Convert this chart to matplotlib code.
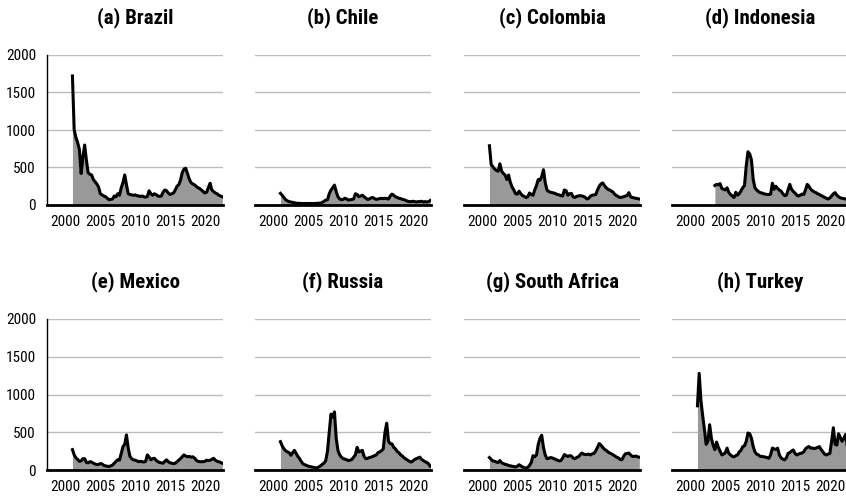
import numpy as np
import matplotlib
matplotlib.use("Agg")
import matplotlib.pyplot as plt
from matplotlib import font_manager

# narrow face if the machine has one
names = {f.name for f in font_manager.fontManager.ttflist}
narrow = [n for n in ['Liberation Sans Narrow', 'Roboto Condensed', 'DejaVu Sans']
          if n in names]
plt.rcParams['font.family'] = narrow
plt.rcParams['font.stretch'] = 'condensed'

# quarterly observations, 2001Q1 .. 2022Q3
quarters = [2001 + q / 4 for q in range(87)]
nan = np.nan

brazil = [1720, 1000, 900, 830, 740, 420, 640, 800, 600, 430, 410, 400,
          340, 310, 280, 240, 150, 135, 120, 110, 90, 70, 75, 80,
          120, 110, 150, 130, 230, 300, 400, 270, 150, 140, 135, 130,
          135, 125, 120, 115, 120, 110, 105, 115, 190, 150, 130, 150,
          140, 120, 115, 120, 170, 200, 190, 160, 140, 150, 160, 200,
          250, 270, 330, 430, 480, 490, 420, 350, 300, 280, 270, 250,
          230, 220, 200, 180, 160, 170, 230, 290, 200, 180, 160, 150,
          130, 120, 110]
chile = [155, 130, 100, 70, 55, 45, 40, 35, 30, 25, 22, 22,
         20, 20, 20, 20, 20, 20, 20, 20, 20, 22, 25, 25,
         35, 50, 65, 70, 150, 200, 230, 266, 180, 110, 80, 70,
         75, 90, 80, 65, 70, 75, 80, 150, 140, 110, 120, 130,
         110, 90, 75, 80, 95, 100, 85, 75, 80, 85, 90, 85,
         90, 85, 80, 120, 145, 130, 110, 100, 90, 85, 75, 70,
         60, 50, 45, 45, 50, 45, 40, 45, 45, 50, 40, 45,
         40, 45, 60]
colombia = [790, 540, 510, 480, 460, 450, 550, 450, 420, 400, 340, 400,
            300, 240, 200, 150, 145, 185, 150, 125, 115, 100, 110, 160,
            140, 130, 200, 260, 340, 330, 380, 470, 300, 200, 180, 170,
            165, 160, 150, 140, 135, 125, 120, 200, 190, 130, 150, 155,
            110, 100, 115, 120, 125, 120, 115, 100, 80, 90, 120, 130,
            135, 140, 200, 250, 280, 295, 260, 230, 210, 200, 185, 170,
            140, 125, 110, 100, 105, 110, 120, 125, 165, 110, 100, 95,
            90, 85, 80]
indonesia = [nan, nan, nan, nan, nan, nan, nan, nan, nan, nan, 260, 275,
             270, 285, 220, 210, 200, 230, 170, 140, 120, 100, 170, 130,
             150, 190, 230, 260, 520, 710, 680, 600, 340, 230, 200, 180,
             165, 160, 150, 145, 140, 140, 145, 290, 210, 250, 220, 200,
             185, 150, 125, 130, 200, 275, 210, 180, 160, 130, 120, 130,
             145, 140, 200, 275, 250, 210, 190, 175, 165, 150, 140, 125,
             115, 100, 90, 80, 95, 120, 150, 165, 130, 110, 95, 90,
             85, 80, 80]
mexico = [270, 200, 160, 140, 115, 120, 150, 150, 100, 95, 110, 105,
          90, 80, 70, 75, 85, 80, 60, 55, 50, 45, 55, 65,
          90, 115, 135, 130, 220, 310, 340, 465, 290, 180, 150, 135,
          130, 120, 110, 115, 110, 105, 115, 200, 170, 135, 150, 155,
          130, 110, 100, 95, 90, 115, 135, 110, 95, 90, 85, 90,
          110, 130, 150, 175, 200, 185, 175, 180, 170, 175, 160, 130,
          115, 110, 110, 110, 115, 130, 125, 130, 140, 155, 130, 115,
          110, 100, 90]
russia = [375, 320, 280, 255, 240, 230, 195, 230, 260, 220, 180, 150,
          110, 80, 70, 60, 50, 45, 40, 35, 30, 28, 40, 55,
          75, 90, 125, 250, 500, 740, 700, 770, 420, 260, 200, 170,
          150, 145, 135, 125, 130, 140, 170, 200, 300, 240, 250, 260,
          180, 150, 155, 165, 170, 180, 190, 200, 230, 240, 255, 280,
          500, 620, 380, 350, 345, 300, 280, 245, 230, 200, 185, 160,
          145, 130, 115, 105, 120, 140, 150, 160, 170, 140, 125, 110,
          100, 80, 50]
south_africa = [165, 140, 120, 115, 105, 100, 125, 95, 85, 75, 70, 60,
                55, 50, 45, 40, 50, 70, 55, 40, 30, 25, 35, 60,
                100, 190, 175, 200, 340, 420, 460, 300, 200, 150, 155, 165,
                160, 150, 140, 130, 120, 125, 160, 205, 190, 180, 190, 185,
                160, 150, 165, 175, 200, 225, 210, 205, 205, 210, 200, 215,
                220, 255, 300, 350, 330, 300, 275, 260, 240, 225, 215, 200,
                185, 170, 160, 140, 135, 180, 215, 220, 225, 200, 180, 180,
                185, 175, 170]
turkey = [850, 1280, 920, 720, 540, 340, 380, 600, 420, 330, 270, 370,
          300, 250, 200, 210, 230, 290, 220, 200, 180, 175, 190, 200,
          240, 260, 310, 320, 380, 490, 480, 420, 310, 240, 210, 200,
          180, 180, 175, 170, 165, 155, 200, 290, 280, 270, 290, 200,
          160, 145, 135, 160, 220, 230, 250, 265, 220, 200, 210, 220,
          225, 240, 280, 300, 310, 290, 290, 285, 290, 300, 310, 270,
          240, 210, 200, 210, 220, 380, 560, 340, 330, 480, 430, 380,
          420, 470, 310]

titles = ["(a) Brazil", "(b) Chile", "(c) Colombia", "(d) Indonesia",
          "(e) Mexico", "(f) Russia", "(g) South Africa", "(h) Turkey"]
series = [brazil, chile, colombia, indonesia,
          mexico, russia, south_africa, turkey]
y_ticks = [0, 500, 1000, 1500, 2000]
x_ticks = [2000, 2005, 2010, 2015, 2020]

W, H = 846, 501
fig = plt.figure(figsize=(W / 100, H / 100), dpi=100)

lefts = [47, 255, 464, 672]
rows = [(55, 205), (319, 470)]

for i, (title, vals) in enumerate(zip(titles, series)):
    r, c = divmod(i, 4)
    top, bot = rows[r]
    ax = fig.add_axes([lefts[c] / W, 1 - bot / H, 176 / W, (bot - top) / H])
    y = np.array(vals, dtype=float)
    ax.fill_between(quarters, y, 0, where=~np.isnan(y), color='#999999',
                    linewidth=0, zorder=1)
    ax.plot(quarters, y, color='black', linewidth=2.2, zorder=3)
    ax.set_xlim(1997.35, 2022.6)
    ax.set_ylim(0, 2000)
    ax.set_yticks(y_ticks)
    ax.set_xticks(x_ticks)
    ax.grid(axis='y', color='#bdbdbd', linewidth=1.0, zorder=0)
    ax.set_axisbelow(True)
    for s in ['top', 'right']:
        ax.spines[s].set_visible(False)
    ax.spines['bottom'].set_linewidth(2.0)
    ax.spines['bottom'].set_zorder(4)
    ax.tick_params(axis='both', length=0, labelsize=11)
    ax.tick_params(axis='x', pad=7)
    ax.tick_params(axis='y', pad=8)
    if c == 0:
        ax.spines['left'].set_linewidth(1.0)
    else:
        ax.spines['left'].set_visible(False)
        ax.set_yticklabels([])
    ax.set_title(title, fontsize=15, fontweight='bold', pad=23)

fig.savefig("out.png", dpi=100)
